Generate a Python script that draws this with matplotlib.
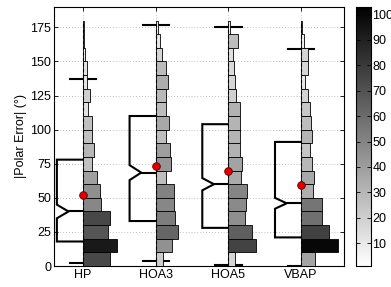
import numpy as np
import matplotlib
matplotlib.use("Agg")
import matplotlib.pyplot as plt
from matplotlib.colors import Normalize

plt.rcParams["font.family"] = ["Liberation Sans", "DejaVu Sans"]
plt.rcParams["font.size"] = 9

# data
categories = ["HP", "HOA3", "HOA5", "VBAP"]
bin_lo = list(range(0, 180, 10))
counts_hp = [74, 93, 69, 74, 49, 46, 39, 26, 30, 26, 26, 13, 20, 11, 12, 6, 4, 2]
counts_hoa3 = [21, 45, 62, 53, 49, 51, 27, 43, 40, 27, 36, 28, 29, 34, 28, 18, 11, 6]
counts_hoa5 = [18, 76, 65, 46, 48, 50, 35, 38, 32, 31, 31, 32, 20, 18, 16, 13, 27, 4]
counts_vbap = [38, 100, 77, 58, 56, 33, 36, 30, 24, 31, 28, 24, 19, 10, 18, 18, 7, 3]
q1 = [18, 33, 28, 21]
medians = [40, 68.5, 60, 46]
q3 = [78, 110, 104, 91]
notch_half = [5, 5.5, 4.5, 4]
whisk_lo = [2, 3.5, 1, 0]
whisk_hi = [137, 177, 175, 159]
means = [52, 73.5, 70, 59.5]
yticks = [0, 25, 50, 75, 100, 125, 150, 175]
cbar_ticks = [10, 20, 30, 40, 50, 60, 70, 80, 90, 100]

all_counts = [counts_hp, counts_hoa3, counts_hoa5, counts_vbap]

fig = plt.figure(figsize=(3.91, 2.87), dpi=100)
ax = fig.add_axes([0.138, 0.073, 0.742, 0.903])
cax = fig.add_axes([0.911, 0.073, 0.038, 0.903])

cmap = plt.get_cmap("gray_r")
norm = Normalize(vmin=1, vmax=103)
scale = 0.005  # x units per count
box_w = 0.36
notch_d = 0.16
cap_w = 0.18

for i, name in enumerate(categories):
    pos = i + 1
    counts = np.array(all_counts[i])
    # half box with notch, left of the axis line
    xl = pos - box_w
    xn = xl + notch_d
    bx = [pos, xl, xl, xn, xl, xl, pos]
    by = [q3[i], q3[i], medians[i] + notch_half[i], medians[i],
          medians[i] - notch_half[i], q1[i], q1[i]]
    ax.plot(bx, by, color="black", lw=1.5, zorder=3, solid_joinstyle="miter")
    ax.plot([xn, pos], [medians[i], medians[i]], color="black", lw=1.5, zorder=3)
    # whisker caps
    for w in (whisk_lo[i], whisk_hi[i]):
        ax.plot([pos - cap_w, pos + cap_w], [w, w], color="black", lw=1.5, zorder=3)
    # histogram bars
    ax.barh(bin_lo, counts * scale, height=10, left=pos, align="edge",
            color=cmap(norm(counts)), edgecolor="black", linewidth=0.6, zorder=4)
    ax.plot([pos, pos], [0, 180], color="black", lw=0.8, ls=(0, (3, 2)), zorder=5)
    ax.plot(pos, means[i], "o", ms=5.5, mfc="#dd0000", mec="#550000", mew=0.6, zorder=6)

ax.set_xlim(0.6, 4.59)
ax.set_ylim(0, 190)
ax.set_xticks(range(1, len(categories) + 1))
ax.set_xticklabels(categories)
ax.set_yticks(yticks)
ax.set_ylabel("|Polar Error| (°)", labelpad=2)
ax.grid(True, ls=(0, (1, 2.5)), color="#aaaaaa", lw=0.6, zorder=0)
ax.set_axisbelow(True)
ax.tick_params(direction="in", top=True, right=True, length=3, width=0.6, pad=2)
for s in ax.spines.values():
    s.set_linewidth(0.8)

grad = np.linspace(1, 103, 256).reshape(-1, 1)
cax.imshow(grad, aspect="auto", origin="lower", cmap=cmap, norm=norm,
           extent=[0, 1, 1, 103])
cax.set_xticks([])
cax.yaxis.tick_right()
cax.set_yticks(cbar_ticks)
cax.tick_params(direction="in", length=3, width=0.6, pad=1, right=True, left=True)
for s in cax.spines.values():
    s.set_linewidth(0.8)

fig.savefig("out.png", dpi=100)
